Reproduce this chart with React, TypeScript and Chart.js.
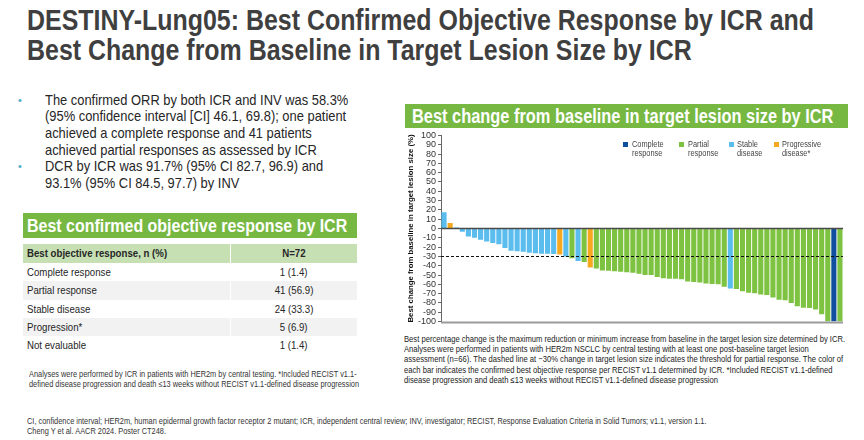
import React, { useEffect, useRef } from "react";
import { Chart, registerables } from "chart.js";
Chart.register(...registerables);

// ---- Waterfall data (best % change from baseline, sorted) ----
const patients = [
  "P1","P2","P3","P4","P5","P6","P7","P8","P9","P10","P11","P12","P13","P14","P15","P16","P17","P18","P19","P20","P21","P22",
  "P23","P24","P25","P26","P27","P28","P29","P30","P31","P32","P33","P34","P35","P36","P37","P38","P39","P40","P41","P42","P43","P44",
  "P45","P46","P47","P48","P49","P50","P51","P52","P53","P54","P55","P56","P57","P58","P59","P60","P61","P62","P63","P64","P65","P66",
];
const bestChange = [
  17.5, 6, 1, -3.5, -8.5, -10, -12, -14, -15.5, -17, -21, -24, -24.5, -25, -26, -26.5, -27, -27, -27.5, -28, -30, -32,
  -35, -36, -42, -43, -45, -45.5, -46, -46.5, -47, -47.5, -48.5, -50, -50, -52, -53.5, -54, -54, -54.5, -57, -57.5, -58, -59,
  -59.5, -60, -62.5, -64.5, -65, -67.5, -69, -69.5, -71, -71.5, -74, -76.5, -77, -80, -83.5, -85, -85.5, -87, -92, -100, -100, -100,
];
const response = [
  "SD","PD","SD","SD","SD","SD","SD","SD","SD","SD","SD","SD","SD","SD","SD","SD","SD","SD","SD","PD","SD","PR",
  "SD","PR","PD","PR","PR","PR","PR","PR","PR","PR","PR","PR","PR","PR","PR","PR","PR","PR","PR","PR","PR","PR",
  "PR","PR","PR","SD","PR","PR","PR","PR","PR","PR","PR","PR","PR","PR","PR","PR","PR","PR","PR","PR","CR","PR",
];
const legendKeys = ["CR", "PR", "SD", "PD"];
const legendLabels = [["Complete", "response"], ["Partial", "response"], ["Stable", "disease"], ["Progressive", "disease*"]];
const responseColors: Record<string, string> = { CR: "#0f4f9e", PR: "#7ec242", SD: "#5bbcee", PD: "#f6a81e" };
const yMin = -100;
const yMax = 100;
const yStep = 10;
const prThreshold = -30;

// ---- Table data ----
const tableHeader = ["Best objective response, n (%)", "N=72"];
const tableRows = ["Complete response", "Partial response", "Stable disease", "Progression*", "Not evaluable"];
const tableValues = ["1 (1.4)", "41 (56.9)", "24 (33.3)", "5 (6.9)", "1 (1.4)"];

const GREEN = "#77b843";
const SX = 0.84;
const FONT = "'Liberation Sans', Arial, Helvetica, sans-serif";
const CHART_FONT = "'Liberation Sans Narrow', 'Arial Narrow', 'Liberation Sans', Arial, sans-serif";

function T(props: { x: number; y: number; size: number; lh?: number; bold?: boolean; color?: string; s?: number; children: any; w?: number; center?: boolean }) {
  const { x, y, size, lh, bold, color, s, children, w, center } = props;
  const sc = s ?? SX;
  if (center && w) {
    return (
      <div style={{ position: "absolute", left: x, top: y, width: w, textAlign: "center", whiteSpace: "pre", fontSize: size, lineHeight: (lh ?? size * 1.15) + "px", fontWeight: bold ? 700 : 400, color: color ?? "#262626" }}>
        <span style={{ display: "inline-block", transform: `scaleX(${sc})`, transformOrigin: "center top" }}>{children}</span>
      </div>
    );
  }
  return (
    <div style={{ position: "absolute", left: x, top: y, whiteSpace: "pre", fontSize: size, lineHeight: (lh ?? size * 1.15) + "px", fontWeight: bold ? 700 : 400, color: color ?? "#262626", transform: `scaleX(${sc})`, transformOrigin: "left top" }}>
      {children}
    </div>
  );
}

function Waterfall() {
  const ref = useRef<HTMLCanvasElement | null>(null);
  useEffect(() => {
    if (!ref.current) return;
    const refLines = {
      id: "refLines",
      afterDatasetsDraw(chart: any) {
        const { ctx, chartArea, scales } = chart;
        const y0 = scales.y.getPixelForValue(0);
        const y30 = scales.y.getPixelForValue(prThreshold);
        const yb = scales.y.getPixelForValue(yMin);
        ctx.save();
        ctx.strokeStyle = "#4a4a4a";
        ctx.lineWidth = 1.5;
        ctx.beginPath();
        ctx.moveTo(chartArea.left, y0);
        ctx.lineTo(chartArea.right, y0);
        ctx.stroke();
        ctx.strokeStyle = "#111";
        ctx.lineWidth = 1;
        ctx.setLineDash([3, 2]);
        ctx.beginPath();
        ctx.moveTo(chartArea.left, Math.round(y30) + 0.5);
        ctx.lineTo(chartArea.right, Math.round(y30) + 0.5);
        ctx.stroke();
        ctx.setLineDash([]);
        ctx.strokeStyle = "#9a9a9a";
        ctx.lineWidth = 2;
        ctx.beginPath();
        ctx.moveTo(chartArea.left, yb + 1);
        ctx.lineTo(chartArea.right, yb + 1);
        ctx.stroke();
        ctx.restore();
      },
    };
    const chart = new Chart(ref.current, {
      type: "bar",
      data: {
        labels: patients,
        datasets: [
          {
            data: bestChange,
            backgroundColor: response.map((r) => responseColors[r]),
            barPercentage: 1,
            categoryPercentage: 0.84,
            borderWidth: 0,
          },
        ],
      },
      options: {
        animation: false,
        responsive: false,
        maintainAspectRatio: false,
        layout: { padding: { left: 0, right: 0, top: 0, bottom: 0 } },
        plugins: { legend: { display: false }, tooltip: { enabled: false } },
        scales: {
          x: { display: false },
          y: {
            min: yMin,
            max: yMax,
            afterFit: (scale: any) => {
              scale.width = 41;
            },
            ticks: { stepSize: yStep, autoSkip: false, font: { family: CHART_FONT, size: 9 }, color: "#333", padding: 2 },
            grid: { drawOnChartArea: false, drawTicks: true, tickLength: 3, color: "#666" },
            border: { display: true, color: "#666", width: 1 },
            title: {
              display: true,
              text: "Best change from baseline in target lesion size (%)",
              font: { family: CHART_FONT, size: 7.8, weight: "bold" },
              color: "#111",
              padding: { top: 6, bottom: 0 },
            },
          },
        },
      },
      plugins: [refLines],
    });
    return () => chart.destroy();
  }, []);
  return (
    <div style={{ position: "absolute", left: 400, top: 128, width: 443, height: 201 }}>
      <canvas ref={ref} width={443} height={201} style={{ width: 443, height: 201 }} />
    </div>
  );
}

export default function App() {
  const legendX = [[623, 632], [679, 688], [729, 737], [774, 782]];
  const bullets = [
    "The confirmed ORR by both ICR and INV was 58.3%",
    "(95% confidence interval [CI] 46.1, 69.8); one patient",
    "achieved a complete response and 41 patients",
    "achieved partial responses as assessed by ICR",
    "DCR by ICR was 91.7% (95% CI 82.7, 96.9) and",
    "93.1% (95% CI 84.5, 97.7) by INV",
  ];
  const rowTops = [263, 281.3, 299.6, 317.9, 336.2];
  const rightNote = [
    "Best percentage change is the maximum reduction or minimum increase from baseline in the target lesion size determined by ICR.",
    "Analyses were performed in patients with HER2m NSCLC by central testing with at least one post-baseline target lesion",
    "assessment (n=66). The dashed line at \u221230% change in target lesion size indicates the threshold for partial response. The color of",
    "each bar indicates the confirmed best objective response per RECIST v1.1 determined by ICR. *Included RECIST v1.1-defined",
    "disease progression and death \u226413 weeks without RECIST v1.1-defined disease progression",
  ];
  return (
    <div style={{ position: "fixed", left: 0, top: 0, width: 864, height: 440, background: "#fff", overflow: "hidden", fontFamily: FONT }}>
      <T x={27} y={5} size={29.7} lh={30} bold color="#3f3f3f">
        {"DESTINY-Lung05: Best Confirmed Objective Response by ICR and\nBest Change from Baseline in Target Lesion Size by ICR"}
      </T>

      {/* bullets */}
      {[0, 4].map((i) => (
        <div key={i} style={{ position: "absolute", left: 18, top: 91.5 + i * 16.7, fontSize: 11, lineHeight: "16.7px", color: "#4bacc6" }}>
          {"\u2022"}
        </div>
      ))}
      <T x={45} y={91.5} size={15} lh={16.7} color="#262626" s={0.86}>
        {bullets.join("\n")}
      </T>

      {/* left table */}
      <div style={{ position: "absolute", left: 23, top: 213, width: 334, height: 25, background: GREEN }} />
      <T x={27} y={213} size={19} lh={25} bold color="#fff">
        {"Best confirmed objective response by ICR"}
      </T>
      <div style={{ position: "absolute", left: 23, top: 244, width: 334, height: 18.5, background: "#c6e0b4" }} />
      {[1, 3].map((i) => (
        <div key={i} style={{ position: "absolute", left: 23, top: rowTops[i], width: 334, height: 18.3, background: "#f2f2f2" }} />
      ))}
      <div style={{ position: "absolute", left: 229.5, top: 244, width: 1.5, height: 110.5, background: "#fff" }} />
      <T x={27} y={244} size={11.5} lh={18.5} bold>
        {tableHeader[0]}
      </T>
      <T x={231} y={244} w={126} center size={11.5} lh={18.5} bold>
        {tableHeader[1]}
      </T>
      {tableRows.map((r, i) => (
        <React.Fragment key={r}>
          <T x={27} y={rowTops[i]} size={11.5} lh={18.3}>
            {r}
          </T>
          <T x={231} y={rowTops[i]} w={126} center size={11.5} lh={18.3}>
            {tableValues[i]}
          </T>
        </React.Fragment>
      ))}
      <T x={29} y={368.5} size={8.8} lh={10.2} color="#333">
        {"Analyses were performed by ICR in patients with HER2m by central testing. *Included RECIST v1.1-\ndefined disease progression and death \u226413 weeks without RECIST v1.1-defined disease progression"}
      </T>

      {/* right panel */}
      <div style={{ position: "absolute", left: 405, top: 104, width: 443, height: 24, background: GREEN }} />
      <T x={412} y={104} size={19.5} lh={24} bold color="#fff">
        {"Best change from baseline in target lesion size by ICR"}
      </T>
      <Waterfall />
      {legendKeys.map((k, i) => (
        <React.Fragment key={k}>
          <div style={{ position: "absolute", left: legendX[i][0], top: 141.5, width: 5, height: 5, background: responseColors[k] }} />
          <T x={legendX[i][1]} y={139.5} size={8.8} lh={9} color="#444">
            {legendLabels[i].join("\n")}
          </T>
        </React.Fragment>
      ))}
      <T x={404} y={334} size={9.1} lh={10.2} color="#222">
        {rightNote.join("\n")}
      </T>

      {/* footer */}
      <T x={27} y={415.5} size={8.8} lh={10.5} color="#333">
        {"CI, confidence interval; HER2m, human epidermal growth factor receptor 2 mutant; ICR, independent central review; INV, investigator; RECIST, Response Evaluation Criteria in Solid Tumors; v1.1, version 1.1.\nCheng Y et al. AACR 2024. Poster CT248."}
      </T>
    </div>
  );
}
